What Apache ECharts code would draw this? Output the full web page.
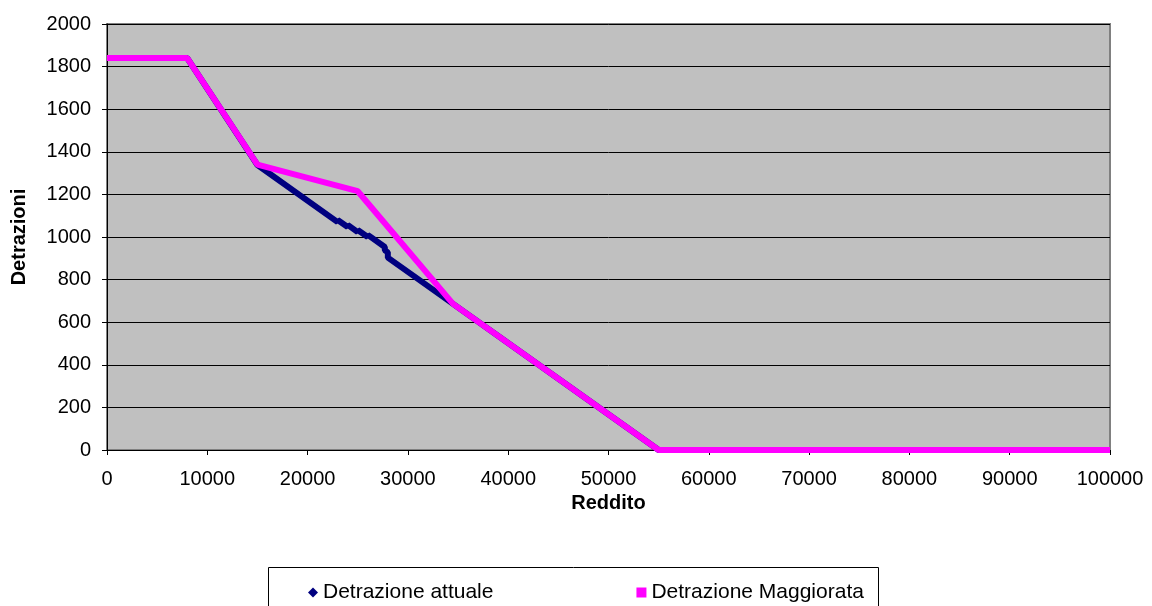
<!DOCTYPE html>
<html>
<head>
<meta charset="utf-8">
<script src="https://cdn.jsdelivr.net/npm/echarts@6/dist/echarts.min.js"></script>
<style>
  html, body { margin: 0; padding: 0; background: #fff; }
  #chart { width: 1152px; height: 606px; }
</style>
</head>
<body>
<div id="chart"></div>
<script>
// Detrazione attuale (reddito, detrazione)
var redditoAttuale = [0, 8000, 15000, 23000, 23000, 24000, 24000, 25000, 25000, 26000, 26000, 27700, 27700, 28000, 28000, 34500, 55000, 100000];
var detrAttuale    = [1840, 1840, 1338, 1070, 1080, 1047, 1057, 1023, 1033, 1000, 1010, 953, 938, 928, 903, 686, 0, 0];

// Detrazione Maggiorata
var redditoMagg = [0, 8000, 15000, 25000, 34500, 55000, 100000];
var detrMagg    = [1840, 1840, 1340, 1215, 686, 0, 0];

var seriesNames = ['Detrazione attuale', 'Detrazione Maggiorata'];

function pairs(xs, ys) {
    var out = [];
    for (var i = 0; i < xs.length; i++) out.push([xs[i], ys[i]]);
    return out;
}

var chart = echarts.init(document.getElementById('chart'));

var option = {
    animation: false,
    textStyle: { fontFamily: 'Liberation Sans, Arial, sans-serif' },
    grid: {
        left: 107,
        right: 42,
        top: 24,
        bottom: 156,
        show: true,
        backgroundColor: '#C0C0C0',
        borderColor: '#808080',
        borderWidth: 2
    },
    legend: {
        left: 303,
        top: 577,
        itemWidth: 10,
        itemHeight: 10,
        itemGap: 143,
        textStyle: { fontSize: 21, color: '#000' },
        data: [
            { name: seriesNames[0], icon: 'diamond', itemStyle: { color: '#000080' } },
            { name: seriesNames[1], icon: 'rect', itemStyle: { color: '#FF00FF' } }
        ]
    },
    graphic: [{
        type: 'rect',
        left: 266,
        top: 565,
        shape: { width: 610, height: 60 },
        style: { fill: 'none', stroke: '#000', lineWidth: 1 },
        z: -1
    }],
    xAxis: {
        type: 'value',
        min: 0,
        max: 100000,
        interval: 10000,
        name: 'Reddito',
        nameLocation: 'middle',
        nameGap: 32,
        nameTextStyle: { fontSize: 20, fontWeight: 'bold', color: '#000' },
        axisLine: { show: true, onZero: false, lineStyle: { color: '#000', width: 1 } },
        axisTick: { show: true, inside: false, length: 5, lineStyle: { color: '#000' } },
        axisLabel: { fontSize: 20, color: '#000', margin: 19, formatter: function (v) { return String(v); } },
        splitLine: { show: false }
    },
    yAxis: {
        type: 'value',
        min: 0,
        max: 2000,
        interval: 200,
        name: 'Detrazioni',
        nameLocation: 'middle',
        nameGap: 78,
        nameTextStyle: { fontSize: 20, fontWeight: 'bold', color: '#000' },
        axisLine: { show: true, lineStyle: { color: '#000', width: 1 } },
        axisTick: { show: true, inside: false, length: 5, lineStyle: { color: '#000' } },
        axisLabel: { fontSize: 20, color: '#000', margin: 16, formatter: function (v) { return String(v); } },
        splitLine: { show: true, lineStyle: { color: '#000', width: 1 } }
    },
    series: [
        {
            name: seriesNames[0],
            type: 'line',
            data: pairs(redditoAttuale, detrAttuale),
            showSymbol: false,
            symbol: 'diamond',
            color: '#000080',
            lineStyle: { color: '#000080', width: 6 },
            z: 2
        },
        {
            name: seriesNames[1],
            type: 'line',
            data: pairs(redditoMagg, detrMagg),
            showSymbol: false,
            symbol: 'rect',
            color: '#FF00FF',
            lineStyle: { color: '#FF00FF', width: 6 },
            z: 3
        }
    ]
};

chart.setOption(option);
window.onresize = function () { chart.resize(); };
</script>
</body>
</html>
